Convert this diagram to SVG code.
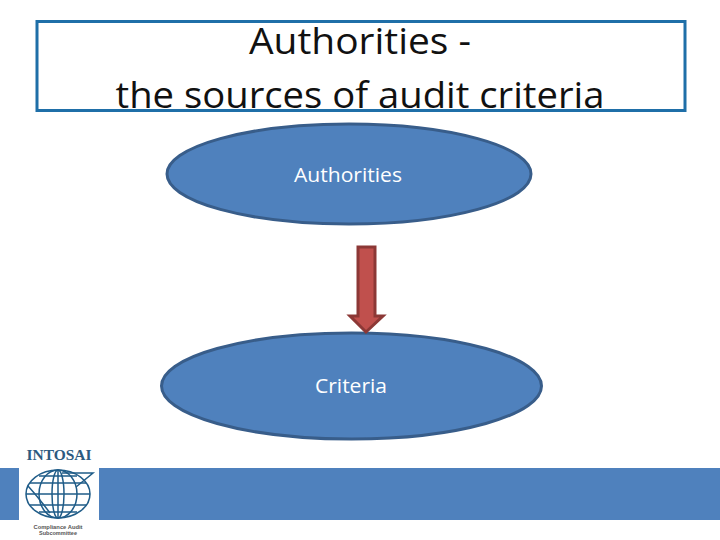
<svg xmlns="http://www.w3.org/2000/svg" width="720" height="540" viewBox="0 0 720 540">
<style>
.t{font-family:"Open Sans","Noto Sans","Liberation Sans",sans-serif;fill:#111;text-anchor:middle}
.h{font-size:36px}
.l{font-size:20px;fill:#fff}
.e{fill:#4f81bd;stroke:#385d8a;stroke-width:3}
.g{fill:none;stroke:#1f5c88;stroke-width:1.500}
.s{font-family:"Liberation Sans",sans-serif;font-size:6px;fill:#555;text-anchor:middle}
</style>
<rect width="720" height="540" fill="#fff"/>
<g id="title">
<rect x="37" y="21.500" width="648" height="89" fill="#fff" stroke="#1f6fa8" stroke-width="3"/>
<text class="t h" x="360" y="54" textLength="222" lengthAdjust="spacingAndGlyphs">Authorities -</text>
<text class="t h" x="360" y="108" textLength="489" lengthAdjust="spacingAndGlyphs">the sources of audit criteria</text>
</g>
<g id="band">
<rect x="0" y="468" width="19" height="52" fill="#4f81bd"/>
<rect x="99" y="468" width="621" height="52" fill="#4f81bd"/>
</g>
<g id="authorities">
<ellipse class="e" cx="349" cy="174" rx="182" ry="50"/>
<text class="t l" x="348" y="182" textLength="108" lengthAdjust="spacingAndGlyphs">Authorities</text>
</g>
<g id="criteria">
<ellipse class="e" cx="351.500" cy="386" rx="190" ry="53"/>
<text class="t l" x="351" y="393" textLength="72" lengthAdjust="spacingAndGlyphs">Criteria</text>
</g>
<g id="connectors">
<path d="M358 247H375V316H383L366 332L350 316H358Z" fill="#c0504d" stroke="#8c3836" stroke-width="3"/>
</g>
<g id="logo">
<text x="59" y="460" text-anchor="middle" font-family="Liberation Serif,serif" font-weight="bold" font-size="14.500" fill="#2c5a80" textLength="65" lengthAdjust="spacingAndGlyphs">INTOSAI</text>
<ellipse class="g" cx="58" cy="494" rx="32" ry="24"/>
<ellipse class="g" cx="58" cy="494" rx="19" ry="24"/>
<ellipse class="g" cx="58" cy="494" rx="6" ry="24"/>
<path class="g" d="M26 494H90M30 483H86M30 505H86M39 476H77M39 512H77M58 470V518"/>
<path class="g" d="M62 473L93 473L76 487M28 486Q38 497 50 513"/>
<text class="s" x="58" y="529" font-weight="bold" textLength="49" lengthAdjust="spacingAndGlyphs">Compliance Audit</text>
<text class="s" x="58" y="535" font-weight="bold" textLength="38" lengthAdjust="spacingAndGlyphs">Subcommittee</text>
</g>
</svg>
